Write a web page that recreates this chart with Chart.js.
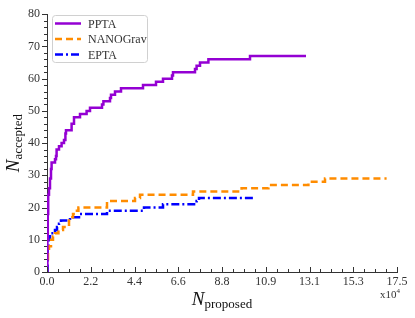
<!DOCTYPE html>
<html>
<head>
<meta charset="utf-8">
<script src="https://cdn.jsdelivr.net/npm/chart.js@4.4.0/dist/chart.umd.min.js"></script>
<style>
  html, body { margin: 0; padding: 0; background: #fff; }
  #wrap { width: 415px; height: 318px; }
</style>
</head>
<body>
<div id="wrap"><canvas id="chart" width="415" height="318"></canvas></div>
<script>
/* ── Datos (eje x en unidades de 10^4 propuestas) ─────────────── */
const seriesNames = ['PPTA', 'NANOGrav', 'EPTA'];

const pptaX = [0, 0.02, 0.04, 0.06, 0.10, 0.15, 0.20, 0.23, 0.40, 0.45, 0.48, 0.60, 0.73, 0.85, 0.92, 0.95,
               1.23, 1.35, 1.65, 1.98, 2.15, 2.75, 2.82, 3.15, 3.20, 3.40, 3.70, 4.80, 5.45, 5.80,
               6.25, 6.30, 7.40, 7.48, 7.65, 8.07, 10.15, 12.95];
const pptaY = [0, 10, 18, 24, 26, 29, 32, 34, 35, 36, 38, 39, 40, 41, 43, 44,
               46, 48, 49, 50, 51, 52, 53, 54, 55, 56, 57, 58, 59, 60,
               61, 62, 63, 64, 65, 66, 67, 67];

const nanoX = [0, 0.05, 0.10, 0.20, 0.30, 0.40, 0.57, 0.80, 1.10, 1.20, 1.30, 1.40, 1.57,
               3.00, 4.40, 4.65, 7.30, 9.73, 11.07, 13.07, 13.90, 16.98];
const nanoY = [4, 6, 8, 10, 11, 12, 13, 14, 16, 17, 18, 19, 20,
               22, 23, 24, 25, 26, 27, 28, 29, 29];

const eptaX = [0, 0.03, 0.08, 0.15, 0.40, 0.50, 0.60, 0.70, 1.15, 1.60, 3.00, 4.85, 5.80, 7.48, 7.60, 10.30];
const eptaY = [0, 8, 10, 12, 13, 14, 15, 16, 17, 18, 19, 20, 21, 22, 23, 23];

const xTickValues = [0, 2.1875, 4.375, 6.5625, 8.75, 10.9375, 13.125, 15.3125, 17.5];
const xTickLabels = ['0.0', '2.2', '4.4', '6.6', '8.8', '10.9', '13.1', '15.3', '17.5'];
const yTickValues = [0, 10, 20, 30, 40, 50, 60, 70, 80];

/* ── Estilos ─────────────────────────────────────────────────── */
const SERIF = "'Liberation Serif', 'Times New Roman', serif";
const INK = '#333';
const colors = ['#9400D3', '#FF8C00', '#0000FF'];
const dashes = [[], [7, 4], [8, 3, 2, 3]];

const toPoints = (xs, ys) => xs.map((x, i) => ({ x, y: ys[i] }));
const seriesData = [toPoints(pptaX, pptaY), toPoints(nanoX, nanoY), toPoints(eptaX, eptaY)];

// ── Ticks menores, títulos con subíndice y leyenda ───────────────
const decor = {
  id: 'decor',
  afterDraw(chart) {
    const { ctx, chartArea: a, scales: { x, y } } = chart;
    ctx.save();
    ctx.strokeStyle = INK;
    ctx.lineWidth = 1;
    ctx.beginPath();
    // eje x: marcas hacia adentro, 3 menores entre mayores
    for (let i = 0; i <= 32; i++) {
      const px = Math.round(x.getPixelForValue(17.5 * i / 32)) + 0.5;
      const len = i % 4 === 0 ? 5 : 3;
      ctx.moveTo(px, a.bottom);
      ctx.lineTo(px, a.bottom - len);
    }
    // eje y: marcas hacia afuera cada 2
    for (let v = 0; v <= 80; v += 2) {
      const py = Math.round(y.getPixelForValue(v)) + 0.5;
      const len = v % 10 === 0 ? 5 : 3;
      ctx.moveTo(a.left, py);
      ctx.lineTo(a.left - len, py);
    }
    ctx.stroke();

    // título x: N_proposed
    ctx.fillStyle = '#111';
    ctx.textBaseline = 'alphabetic';
    ctx.textAlign = 'left';
    const bigF = 'italic 19px ' + SERIF;
    const subF = '13px ' + SERIF;
    ctx.font = bigF;
    const wN = ctx.measureText('N').width;
    ctx.font = subF;
    const wP = ctx.measureText('proposed').width;
    let sx = (a.left + a.right) / 2 - (wN + wP) / 2;
    ctx.font = bigF;
    ctx.fillText('N', sx, 305);
    ctx.font = subF;
    ctx.fillText('proposed', sx + wN, 308);

    // título y: N_accepted
    const wA = ctx.measureText('accepted').width;
    ctx.save();
    ctx.translate(19, (a.top + a.bottom) / 2);
    ctx.rotate(-Math.PI / 2);
    const sy = -(wN + wA) / 2;
    ctx.font = bigF;
    ctx.fillText('N', sy, 0);
    ctx.font = subF;
    ctx.fillText('accepted', sy + wN, 3);
    ctx.restore();

    // multiplicador x10^4
    ctx.fillStyle = INK;
    ctx.font = '11px ' + SERIF;
    ctx.fillText('x10', 380, 298);
    const wx = ctx.measureText('x10').width;
    ctx.font = '7px ' + SERIF;
    ctx.fillText('4', 380 + wx, 293);

    // leyenda
    const bx = 52.5, by = 15.5, bw = 95, bh = 47;
    ctx.strokeStyle = '#d0d0d0';
    ctx.lineWidth = 1;
    ctx.beginPath();
    ctx.roundRect(bx, by, bw, bh, 3);
    ctx.stroke();
    ctx.font = '12px ' + SERIF;
    ctx.textBaseline = 'middle';
    chart.data.datasets.forEach((ds, i) => {
      const ly = 23.5 + i * 15.5;
      ctx.strokeStyle = ds.borderColor;
      ctx.lineWidth = ds.borderWidth;
      ctx.setLineDash(ds.borderDash);
      ctx.beginPath();
      ctx.moveTo(55, ly);
      ctx.lineTo(81, ly);
      ctx.stroke();
      ctx.setLineDash([]);
      ctx.fillStyle = INK;
      ctx.fillText(ds.label, 88, ly + 1);
    });
    ctx.restore();
  }
};

new Chart(document.getElementById('chart'), {
  type: 'line',
  data: {
    datasets: seriesNames.map((name, i) => ({
      label: name,
      data: seriesData[i],
      borderColor: colors[i],
      borderWidth: 2.5,
      borderDash: dashes[i],
      stepped: true,
      fill: false,
      pointRadius: 0,
      tension: 0,
    })),
  },
  options: {
    responsive: false,
    devicePixelRatio: 1,
    animation: false,
    layout: { padding: { top: 11, right: 18, left: 0, bottom: 0 } },
    plugins: { legend: { display: false }, tooltip: { enabled: false } },
    scales: {
      x: {
        type: 'linear',
        min: 0,
        max: 17.5,
        afterBuildTicks: s => { s.ticks = xTickValues.map(v => ({ value: v })); },
        afterFit: s => { s.height = 46; },
        grid: { display: false, drawTicks: false },
        border: { display: true, color: INK, width: 1 },
        ticks: {
          color: INK,
          padding: 3,
          maxRotation: 0,
          font: { family: SERIF, size: 12 },
          callback: (v, i) => xTickLabels[i],
        },
      },
      y: {
        min: 0,
        max: 80,
        afterBuildTicks: s => { s.ticks = yTickValues.map(v => ({ value: v })); },
        afterFit: s => { s.width = 47; },
        grid: { display: false, drawTicks: false },
        border: { display: true, color: INK, width: 1 },
        ticks: {
          color: INK,
          padding: 7,
          font: { family: SERIF, size: 12 },
        },
      },
    },
  },
  plugins: [decor],
});
</script>
</body>
</html>
